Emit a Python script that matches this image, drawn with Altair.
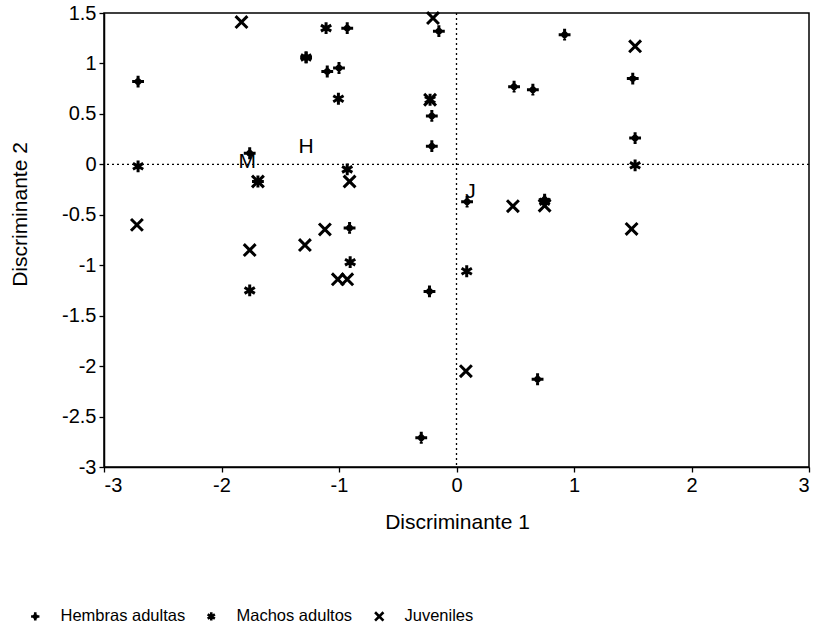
import altair as alt
import pandas as pd

grupos = ["Hembras adultas", "Machos adultos", "Juveniles"]

hembras_x = [-2.71, -0.93, -1.28, -1.10, -1.00, -0.15, -0.21, -0.21, -1.76, -1.69, -0.91,
             -0.23, -0.30, 0.92, 0.49, 0.65, 1.50, 1.52, 0.75, 0.09, 0.69]
hembras_y = [0.82, 1.35, 1.06, 0.92, 0.955, 1.32, 0.48, 0.18, 0.11, -0.17, -0.63,
             -1.26, -2.71, 1.285, 0.77, 0.74, 0.85, 0.26, -0.35, -0.37, -2.13]

machos_x = [-1.11, -1.28, -1.005, -0.225, -2.71, -0.93, 1.52, -0.905, -1.76, 0.087, 0.75]
machos_y = [1.35, 1.06, 0.65, 0.64, -0.02, -0.05, -0.01, -0.97, -1.25, -1.06, -0.37]

juveniles_x = [-1.83, -0.20, -0.225, -0.91, -1.69, -2.72, -1.76, -1.29, -1.12, -1.01,
               -0.93, 1.52, 0.48, 0.75, 1.49, 0.08]
juveniles_y = [1.41, 1.45, 0.64, -0.17, -0.17, -0.60, -0.85, -0.80, -0.645, -1.14,
               -1.14, 1.17, -0.415, -0.41, -0.64, -2.05]

centroide_txt = ["H", "M", "J"]
centroide_x = [-1.28, -1.78, 0.12]
centroide_y = [0.17, 0.02, -0.27]

x_ticks = [-3, -2, -1, 0, 1, 2, 3]
y_ticks = [-3, -2.5, -2, -1.5, -1, -0.5, 0, 0.5, 1, 1.5]

rows = []
for g, xs, ys in zip(grupos, [hembras_x, machos_x, juveniles_x], [hembras_y, machos_y, juveniles_y]):
    for a, b in zip(xs, ys):
        rows.append({"grupo": g, "d1": a, "d2": b})
df = pd.DataFrame(rows)
cent = pd.DataFrame({"txt": centroide_txt, "d1": centroide_x, "d2": centroide_y})

FONT = "Liberation Sans"
lab = "datum.value < 0 ? '-' + format(-datum.value, '~g') : format(datum.value, '~g')"

xscale = alt.Scale(domain=[-3, 3], nice=False, zero=False)
yscale = alt.Scale(domain=[-3, 1.5], nice=False, zero=False)

shape_plus = "M0,-1L0,1M-1,0L1,0M0,-0.45L0.45,0L0,0.45L-0.45,0Z"
shape_ast = "M0,-1L0,1M-0.87,-0.5L0.87,0.5M0.87,-0.5L-0.87,0.5"
shape_x = "M-1,-1L1,1M-1,1L1,-1"

pts = alt.Chart(df).mark_point(filled=False, stroke="black", strokeWidth=3, size=140, opacity=1).encode(
    x=alt.X("d1:Q", scale=xscale,
            axis=alt.Axis(values=x_ticks, title="Discriminante 1", labelExpr=lab, grid=False,
                          titleX=353, titleY=55, titleBaseline="middle")),
    y=alt.Y("d2:Q", scale=yscale,
            axis=alt.Axis(values=y_ticks, title="Discriminante 2", labelExpr=lab, grid=False,
                          titleX=-84, titleY=201, titleBaseline="middle")),
    shape=alt.Shape("grupo:N", scale=alt.Scale(domain=grupos, range=[shape_plus, shape_ast, shape_x]),
                    legend=alt.Legend(title=None, orient="none", direction="horizontal",
                                      legendX=-77, legendY=595, labelFontSize=16.5, labelFont=FONT,
                                      labelLimit=400, symbolSize=70, symbolStrokeWidth=2.6,
                                      symbolStrokeColor="black", symbolFillColor="transparent",
                                      labelOffset=17, columnPadding=16, labelColor="black")),
)

zero_df_x = pd.DataFrame({"v": [0]})
vline = alt.Chart(zero_df_x).mark_rule(color="black", strokeDash=[2, 3], strokeWidth=1.3).encode(
    x=alt.X("v:Q", scale=xscale))
hline = alt.Chart(zero_df_x).mark_rule(color="black", strokeDash=[2, 3], strokeWidth=1.3).encode(
    y=alt.Y("v:Q", scale=yscale))

texts = alt.Chart(cent).mark_text(fontSize=21, font=FONT, color="black", align="center",
                                  baseline="middle").encode(
    x=alt.X("d1:Q", scale=xscale), y=alt.Y("d2:Q", scale=yscale), text="txt:N")

chart = alt.layer(vline, hline, pts, texts).properties(
    width=705, height=454,
    autosize=alt.AutoSizeParams(type="none"),
    padding={"left": 104, "top": 13, "right": 9, "bottom": 170},
    background="white",
).configure_view(stroke="black", strokeWidth=1.5).configure_axis(
    domainColor="black", domainWidth=1.5, tickColor="black", tickSize=5, tickWidth=1.3,
    labelFont=FONT, labelFontSize=20, labelColor="black", titleFont=FONT, titleFontSize=21,
    titleFontWeight="normal", titleColor="black", labelPadding=3
)

chart.save("out.html", embed_options={"renderer": "svg", "actions": False})
